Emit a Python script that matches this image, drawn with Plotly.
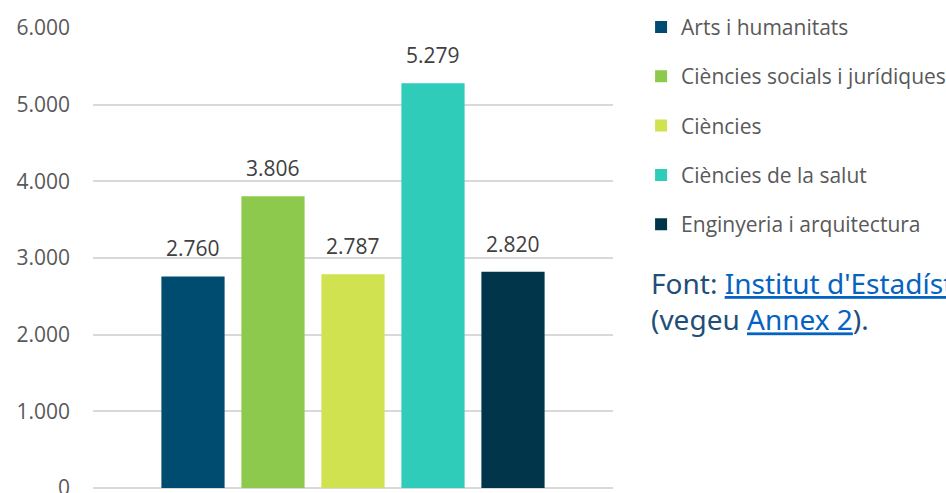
import plotly.graph_objects as go

categories = ["Arts i humanitats", "Ciències socials i jurídiques", "Ciències",
              "Ciències de la salut", "Enginyeria i arquitectura"]
values = [2760, 3806, 2787, 5279, 2820]
colors = ["#004C71", "#8DC94D", "#D0E250", "#2ECCB9", "#00354A"]
value_labels = ["2.760", "3.806", "2.787", "5.279", "2.820"]
y_ticks = [0, 1000, 2000, 3000, 4000, 5000, 6000]
y_tick_labels = ["0", "1.000", "2.000", "3.000", "4.000", "5.000", "6.000"]

fig = go.Figure()
for i, (cat, val, col) in enumerate(zip(categories, values, colors)):
    fig.add_trace(go.Bar(
        x=[cat], y=[val], name=cat, marker=dict(color=col, line=dict(width=0)),
        legendgroup=f"g{i}", showlegend=True, hoverinfo="skip",
    ))
    fig.add_annotation(x=cat, y=val, text=value_labels[i], showarrow=False,
                       yanchor="bottom", yshift=12, xref="x", yref="y",
                       font=dict(family="Open Sans", size=21, color="#404040"))

fig.add_annotation(
    xref="paper", yref="paper", x=1.069, y=0.407, xanchor="left", yanchor="middle",
    align="left", showarrow=False,
    text=("<span style='color:#1F4E79'>Font: </span>"
          "<span style='color:#0563C1'><u>Institut d'Estadística de Catalunya</u></span><br>"
          "<span style='color:#1F4E79'>(vegeu </span>"
          "<span style='color:#0563C1'><u>Annex 2</u></span>"
          "<span style='color:#1F4E79'>).</span>"),
    font=dict(family="Noto Sans", size=28, color="#1F4E79"),
)

fig.update_layout(
    width=946, height=493,
    margin=dict(l=93, r=333, t=28, b=5, autoexpand=False),
    paper_bgcolor="white", plot_bgcolor="white",
    barmode="overlay", bargap=0.21,
    showlegend=True,
    legend=dict(x=1.054, y=1.046, xanchor="left", yanchor="top",
                font=dict(family="Open Sans", size=21, color="#595959"),
                tracegroupgap=19, itemclick=False),
    xaxis=dict(range=[-1.25, 5.25], showticklabels=False, showgrid=False,
               zeroline=False, showline=False, type="category"),
    yaxis=dict(range=[0, 6000], tickvals=y_ticks, ticktext=y_tick_labels,
               showgrid=True, gridcolor="#D9D9D9", gridwidth=1.5,
               zeroline=True, zerolinecolor="#D9D9D9", zerolinewidth=1.5,
               showline=False, ticks="",
               ticklabelstandoff=22, ticklabeloverflow="allow",
               tickfont=dict(family="Open Sans", size=21, color="#595959")),
)

fig.write_html(
    "out.html",
    config={"displayModeBar": False},
    post_script="document.body.style.margin='0px';document.body.style.overflow='hidden';",
)
